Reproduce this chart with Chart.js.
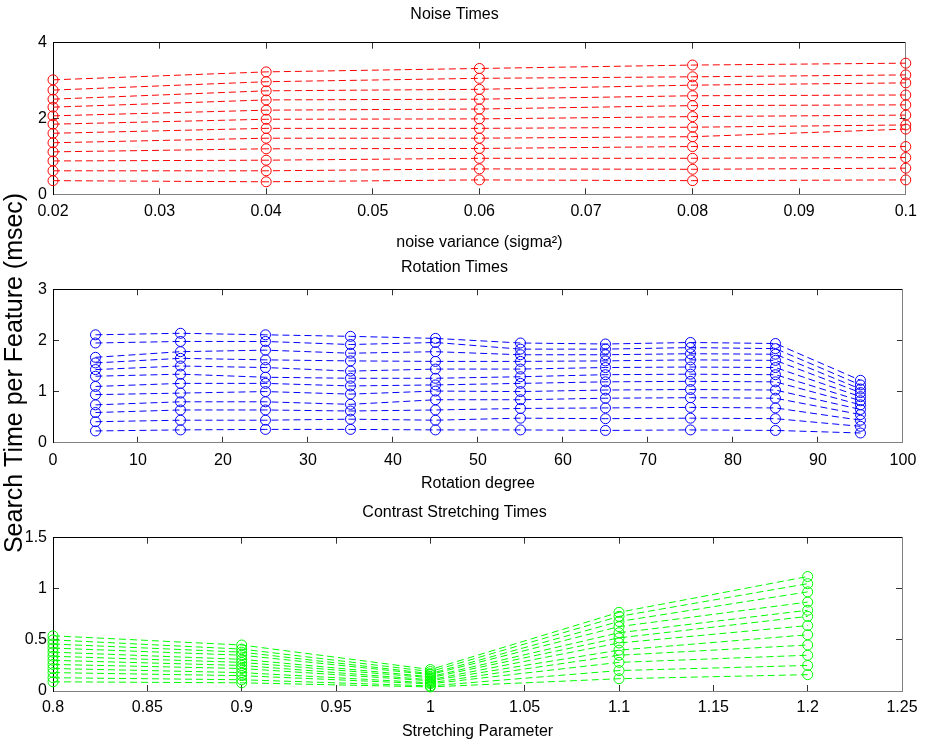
<!DOCTYPE html>
<html>
<head>
<meta charset="utf-8">
<script src="https://cdn.jsdelivr.net/npm/chart.js@4.4.1/dist/chart.umd.min.js"></script>
<style>
  html, body { margin: 0; padding: 0; background: #fff; }
  body { width: 931px; height: 745px; position: relative; overflow: hidden; }
  canvas { position: absolute; left: 0; }
</style>
</head>
<body>
<canvas id="noiseChart" width="931" height="258" style="top:0px"></canvas>
<canvas id="rotationChart" width="931" height="400" style="top:180px"></canvas>
<canvas id="contrastChart" width="931" height="255" style="top:490px"></canvas>
<script>
// ===================================
// DATA (one row per x position, top line first)
// ===================================

const noiseVariance = [0.02, 0.04, 0.06, 0.08, 0.1];
const noiseTimes = [
    [3.02, 2.75, 2.51, 2.30, 2.07, 1.85, 1.61, 1.36, 1.12, 0.88, 0.62, 0.36],
    [3.23, 2.97, 2.73, 2.49, 2.22, 1.98, 1.74, 1.48, 1.20, 0.90, 0.62, 0.33],
    [3.32, 3.06, 2.77, 2.51, 2.25, 1.99, 1.74, 1.48, 1.21, 0.95, 0.67, 0.38],
    [3.41, 3.10, 2.88, 2.60, 2.34, 2.05, 1.77, 1.52, 1.26, 0.95, 0.66, 0.36],
    [3.46, 3.15, 2.94, 2.62, 2.36, 2.09, 1.83, 1.72, 1.26, 0.97, 0.69, 0.38]
];

const rotationDegree = [5, 15, 25, 35, 45, 55, 65, 75, 85, 95];
const rotationTimes = [
    [2.11, 1.95, 1.67, 1.56, 1.43, 1.30, 1.10, 0.94, 0.74, 0.59, 0.41, 0.23],
    [2.14, 1.98, 1.78, 1.65, 1.50, 1.34, 1.16, 0.97, 0.80, 0.64, 0.44, 0.25],
    [2.11, 1.98, 1.81, 1.62, 1.47, 1.28, 1.16, 1.00, 0.80, 0.64, 0.44, 0.26],
    [2.08, 1.92, 1.75, 1.60, 1.40, 1.26, 1.11, 0.95, 0.75, 0.62, 0.46, 0.26],
    [2.04, 1.96, 1.78, 1.59, 1.44, 1.26, 1.13, 1.01, 0.84, 0.64, 0.44, 0.25],
    [1.95, 1.83, 1.72, 1.59, 1.44, 1.29, 1.16, 1.00, 0.84, 0.67, 0.48, 0.25],
    [1.93, 1.83, 1.72, 1.60, 1.47, 1.33, 1.19, 1.03, 0.87, 0.68, 0.47, 0.24],
    [1.96, 1.86, 1.74, 1.62, 1.48, 1.34, 1.20, 1.04, 0.88, 0.69, 0.48, 0.25],
    [1.94, 1.84, 1.73, 1.61, 1.47, 1.33, 1.19, 1.03, 0.87, 0.68, 0.47, 0.24],
    [1.22, 1.13, 1.05, 0.98, 0.90, 0.82, 0.74, 0.65, 0.55, 0.44, 0.32, 0.19]
];

const stretchParam = [0.8, 0.9, 1.0, 1.1, 1.2];
const contrastTimes = [
    [0.54, 0.50, 0.46, 0.42, 0.38, 0.34, 0.30, 0.26, 0.22, 0.18, 0.13, 0.09],
    [0.45, 0.41, 0.38, 0.35, 0.31, 0.28, 0.25, 0.22, 0.18, 0.15, 0.11, 0.08],
    [0.21, 0.19, 0.17, 0.16, 0.14, 0.13, 0.11, 0.10, 0.08, 0.07, 0.05, 0.04],
    [0.77, 0.73, 0.68, 0.63, 0.57, 0.52, 0.47, 0.40, 0.35, 0.28, 0.20, 0.12],
    [1.12, 1.05, 0.97, 0.87, 0.79, 0.73, 0.64, 0.55, 0.45, 0.35, 0.25, 0.16]
];

const noiseXTicks = { min: 0.02, max: 0.1, step: 0.01 };
const noiseYTicks = { min: 0, max: 4, step: 2 };
const rotationXTicks = { min: 0, max: 100, step: 10 };
const rotationYTicks = { min: 0, max: 3, step: 1 };
const contrastXTicks = { min: 0.8, max: 1.25, step: 0.05 };
const contrastYTicks = { min: 0, max: 1.5, step: 0.5 };

// ===================================
// HELPERS
// ===================================

const FONT_FAMILY = "'Liberation Sans', Arial, Helvetica, sans-serif";
const FONT_SIZE = 16;
const LINE_H = FONT_SIZE * 1.2;
const TICK_LEN = -6; // negative = ticks point into the plot box (MATLAB style)

Chart.defaults.font.family = FONT_FAMILY;
Chart.defaults.font.size = FONT_SIZE;
Chart.defaults.color = '#000';

const fmt = v => String(Math.round(v * 10000) / 10000);

// columns -> one dataset per line
function buildDatasets(xs, columns, color) {
    const nLines = columns[0].length;
    const sets = [];
    for (let s = 0; s < nLines; s++) {
        sets.push({
            data: xs.map((x, i) => ({ x: x, y: columns[i][s] })),
            borderColor: color,
            borderWidth: 1,
            borderDash: [7, 4],
            pointStyle: 'circle',
            pointRadius: 5,
            pointBorderWidth: 1,
            pointBorderColor: color,
            pointBackgroundColor: 'rgba(0,0,0,0)',
            fill: false,
            tension: 0,
            clip: false,
            xAxisID: 'x',
            yAxisID: 'y'
        });
    }
    return sets;
}

// f = target pixel positions inside the canvas
function makeChart(id, xs, columns, color, xt, yt, f) {
    const ctx = document.getElementById(id).getContext('2d');
    const H = ctx.canvas.height;
    const edgeGrid = { drawOnChartArea: false, tickLength: TICK_LEN, color: '#333' };

    return new Chart(ctx, {
        type: 'line',
        data: { datasets: buildDatasets(xs, columns, color) },
        options: {
            responsive: false,
            animation: false,
            events: [],
            layout: { padding: { left: 0, right: 22, top: 0, bottom: 0 } },
            plugins: {
                legend: { display: false },
                tooltip: { enabled: false },
                title: {
                    display: true,
                    text: f.title,
                    color: '#000',
                    font: { size: FONT_SIZE, weight: 'normal' },
                    padding: { top: f.titleY - LINE_H / 2, bottom: f.areaTop - (f.titleY + LINE_H / 2) }
                }
            },
            scales: {
                x: {
                    type: 'linear', position: 'bottom',
                    min: xt.min, max: xt.max,
                    ticks: { stepSize: xt.step, callback: fmt, autoSkip: false, maxRotation: 0,
                             padding: f.tickY - f.areaBottom - LINE_H / 2 - TICK_LEN },
                    grid: edgeGrid,
                    border: { color: '#808080' },
                    title: { display: true, text: f.xTitle, font: { size: FONT_SIZE },
                             padding: { top: 0, bottom: H - f.xTitleY - LINE_H / 2 } },
                    afterFit: s => { s.height = H - f.areaBottom; }
                },
                x2: {
                    type: 'linear', position: 'top',
                    min: xt.min, max: xt.max,
                    ticks: { stepSize: xt.step, display: false },
                    grid: edgeGrid,
                    border: { color: '#000' },
                    afterFit: s => { s.height = 0; }
                },
                y: {
                    type: 'linear', position: 'left',
                    min: yt.min, max: yt.max,
                    ticks: { stepSize: yt.step, callback: fmt, padding: 12 },
                    grid: edgeGrid,
                    border: { color: '#000' },
                    title: f.yTitle ? {
                        display: true, text: f.yTitle,
                        font: { size: f.yTitleSize },
                        padding: { top: f.yTitleX - f.yTitleSize * 0.6, bottom: 0 }
                    } : { display: false },
                    afterFit: s => { s.width = 53; }
                },
                y2: {
                    type: 'linear', position: 'right',
                    min: yt.min, max: yt.max,
                    ticks: { stepSize: yt.step, display: false },
                    grid: edgeGrid,
                    border: { color: '#808080' },
                    afterFit: s => { s.width = 0; }
                }
            }
        }
    });
}

// ===================================
// CHARTS
// ===================================

makeChart('noiseChart', noiseVariance, noiseTimes, '#ff0000', noiseXTicks, noiseYTicks, {
    title: 'Noise Times', titleY: 15, areaTop: 42.7, areaBottom: 194.3,
    tickY: 212, xTitle: 'noise variance (sigma\u00B2)', xTitleY: 243
});

// trailing no-break spaces nudge the rotated label a little lower, as in the figure
makeChart('rotationChart', rotationDegree, rotationTimes, '#0000ff', rotationXTicks, rotationYTicks, {
    title: 'Rotation Times', titleY: 88, areaTop: 109.3, areaBottom: 262.7,
    tickY: 281, xTitle: 'Rotation degree', xTitleY: 304,
    yTitle: 'Search Time per Feature (msec)\u00A0\u00A0', yTitleSize: 25, yTitleX: 15
});

makeChart('contrastChart', stretchParam, contrastTimes, '#00ff00', contrastXTicks, contrastYTicks, {
    title: 'Contrast Stretching Times', titleY: 23, areaTop: 47.7, areaBottom: 201,
    tickY: 218, xTitle: 'Stretching Parameter', xTitleY: 242
});
</script>
</body>
</html>
